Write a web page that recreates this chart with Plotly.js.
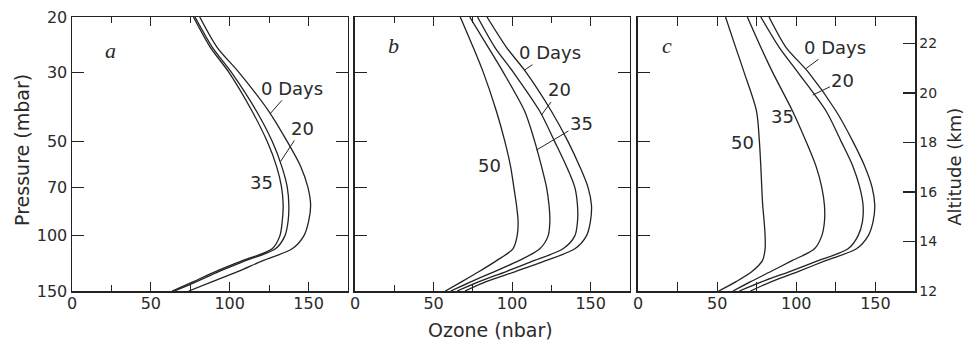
<!DOCTYPE html>
<html>
<head>
<meta charset="utf-8">
<script src="https://cdn.plot.ly/plotly-3.0.1.min.js"></script>
<style>html,body{margin:0;padding:0;background:#fff;}#chart{width:978px;height:344px;}</style>
</head>
<body>
<div id="chart"></div>
<script>
// Pressure levels (mbar)
const pressure = [20, 25, 30, 40, 50, 60, 70, 80, 90, 100, 110, 120, 130, 140, 150];

// Panel a: ozone (nbar)
const a_day0  = [81, 92, 105.7, 124.8, 136.5, 145, 149.6, 151.3, 150, 147, 139.6, 121, 105, 89, 74];
const a_day20 = [78, 89, 101, 117, 127, 133, 136.5, 137.5, 137, 135, 129, 110, 93, 79, 65];
const a_day35 = [77, 87.7, 99.4, 114.2, 123.8, 129.7, 132.9, 133.9, 133.3, 131.8, 126.9, 108, 91, 77, 63.5];

// Panel b
const b_day0  = [84, 96.4, 108.8, 125, 135.6, 143, 148.3, 150.5, 149.8, 147.3, 139.9, 121.4, 102.1, 83.5, 70];
const b_day20 = [78, 89, 100.7, 117.6, 127.1, 134.6, 139.9, 141.6, 141.6, 139.9, 132.4, 113.8, 96.2, 79, 65];
const b_day35 = [73, 84.8, 94.3, 108, 114.4, 118.7, 121.9, 123.5, 124, 122.9, 117.6, 104.3, 88.8, 74, 61];
const b_day50 = [67, 75.2, 81.6, 90, 95.4, 99, 101.1, 102.8, 103.8, 103.2, 100.5, 90.1, 79, 68, 57.5];

// Panel c
const c_day0  = [82.8, 93.5, 107.6, 125.2, 135.8, 143.3, 147.9, 149.6, 148.5, 145.4, 138, 118.5, 101.1, 84.4, 71];
const c_day20 = [77.6, 89.2, 100.9, 118.9, 128.4, 135.8, 140.1, 142.2, 141.8, 139, 132.7, 113.8, 95.8, 78.4, 64];
const c_day35 = [69.1, 77.6, 85, 97.7, 106.2, 112.5, 116.1, 117.8, 117.8, 116.1, 111.5, 97.3, 83.9, 71.2, 60];
const c_day50 = [55.3, 61.7, 67, 74.9, 76.7, 77.6, 78.2, 78.8, 79.7, 80.3, 80.3, 78.6, 72, 62, 51];

// Tick values / labels
const pressureTicks = [20, 30, 50, 70, 100, 150];
const ozoneTicks = [0, 50, 100, 150];
const ozoneMinor = [25, 75, 125];
const altitudeTicks = [12, 14, 16, 18, 20, 22];

const ink = '#222';
const txt = '#2a2a2a';
const FONT = 'DejaVu Sans, sans-serif';

function curve(x, xa, ya) {
  return {x: x, y: pressure, xaxis: xa, yaxis: ya, type: 'scatter', mode: 'lines',
    line: {color: ink, width: 1.3, shape: 'spline', smoothing: 0.8}, showlegend: false, hoverinfo: 'skip'};
}

const data = [
  curve(a_day0, 'x', 'y'), curve(a_day20, 'x', 'y'), curve(a_day35, 'x', 'y'),
  curve(b_day0, 'x2', 'y2'), curve(b_day20, 'x2', 'y2'), curve(b_day35, 'x2', 'y2'), curve(b_day50, 'x2', 'y2'),
  curve(c_day0, 'x3', 'y3'), curve(c_day20, 'x3', 'y3'), curve(c_day35, 'x3', 'y3'), curve(c_day50, 'x3', 'y3'),
  {x: [null], y: [null], xaxis: 'x3', yaxis: 'y4', type: 'scatter', mode: 'lines', showlegend: false, hoverinfo: 'skip'}
];

function xax(dom, showLab) {
  return {domain: dom, range: [0, 175], tickvals: ozoneTicks, ticktext: ozoneTicks.map(String),
    ticks: 'inside', ticklen: 9, tickwidth: 1.2, tickcolor: ink, mirror: 'allticks',
    showline: true, linecolor: ink, linewidth: 1.5, showgrid: false, zeroline: false,
    minor: {tickvals: ozoneMinor, ticks: 'inside', ticklen: 6, tickwidth: 1, tickcolor: ink},
    ticklabelstandoff: -3,
    tickfont: {family: FONT, size: 16, color: txt}, showticklabels: showLab, fixedrange: true};
}
function yax(anchor, showLab, mirror) {
  return {anchor: anchor, domain: [0, 1], type: 'log', range: [Math.log10(150), Math.log10(20)],
    tickvals: pressureTicks, ticktext: pressureTicks.map(String),
    ticks: 'inside', ticklen: 12, tickwidth: 1.2, tickcolor: ink, mirror: mirror,
    showline: true, linecolor: ink, linewidth: 1.5, showgrid: false, zeroline: false,
    tickfont: {family: FONT, size: 16, color: txt}, showticklabels: showLab, fixedrange: true};
}

const L = Math.log10;
function ann(text, xref, yref, x, p, size, extra) {
  return Object.assign({text: text, xref: xref, yref: yref, x: x, y: L(p), showarrow: false,
    xanchor: 'center', yanchor: 'middle',
    font: {family: FONT, size: size, color: txt}}, extra || {});
}
function lead(text, xref, yref, tx, tp, cx, cp) {
  return {text: text, xref: xref, yref: yref, x: cx, y: L(cp), axref: xref, ayref: yref, ax: tx, ay: L(tp),
    showarrow: true, arrowhead: 0, arrowwidth: 1, arrowcolor: ink, standoff: 0,
    font: {family: FONT, size: 18, color: txt}};
}

const annotations = [
  // panel a
  lead('0 Days', 'x', 'y', 139.7, 33.8, 125.9, 40.6),
  lead('20', 'x', 'y', 146, 45.4, 132.2, 57.9),
  ann('35', 'x', 'y', 120, 67.3, 18),
  // panel b
  lead('0 Days', 'x2', 'y2', 124, 26, 108.1, 29.5),
  lead('20', 'x2', 'y2', 130.3, 34.2, 118.7, 41.1),
  lead('35', 'x2', 'y2', 144.1, 43.7, 115.5, 53.2),
  ann('50', 'x2', 'y2', 85.8, 59.4, 18),
  // panel c
  lead('0 Days', 'x3', 'y3', 124.2, 25, 106.2, 29.2),
  lead('20', 'x3', 'y3', 129.5, 31.9, 110.4, 35.5),
  ann('35', 'x3', 'y3', 91.3, 41.7, 18),
  ann('50', 'x3', 'y3', 65.9, 50.4, 18),
  // panel letters
  ann('<i>a</i>', 'x', 'y', 24.2, 25.5, 22, {font: {family: 'Liberation Serif, serif', size: 22, color: txt}}),
  ann('<i>b</i>', 'x2', 'y2', 24.2, 24.6, 22, {font: {family: 'Liberation Serif, serif', size: 22, color: txt}}),
  ann('<i>c</i>', 'x3', 'y3', 18.4, 24.6, 22, {font: {family: 'Liberation Serif, serif', size: 22, color: txt}}),
  // axis titles
  {text: 'Ozone (nbar)', xref: 'paper', yref: 'paper', x: 0.496, y: -0.142, xanchor: 'center', yanchor: 'middle',
    showarrow: false, font: {family: FONT, size: 19, color: txt}},
  {text: 'Pressure (mbar)', xref: 'paper', yref: 'paper', x: -0.0593, y: 0.515, xanchor: 'center', yanchor: 'middle',
    showarrow: false, textangle: -90, font: {family: FONT, size: 19, color: txt}},
  {text: 'Altitude (km)', xref: 'paper', yref: 'paper', x: 1.0474, y: 0.453, xanchor: 'center', yanchor: 'middle',
    showarrow: false, textangle: -90, font: {family: FONT, size: 18, color: txt}}
];

const layout = {
  width: 978, height: 344,
  margin: {l: 72, r: 63, t: 17, b: 53},
  paper_bgcolor: '#fff', plot_bgcolor: '#fff',
  showlegend: false,
  xaxis: Object.assign(xax([0, 0.3274], true), {anchor: 'y'}),
  xaxis2: Object.assign(xax([0.3357, 0.6619], true), {anchor: 'y2'}),
  xaxis3: Object.assign(xax([0.6714, 1], true), {anchor: 'y3'}),
  yaxis: yax('x', true, 'allticks'),
  yaxis2: yax('x2', false, 'allticks'),
  yaxis3: yax('x3', false, true),
  yaxis4: {overlaying: 'y3', anchor: 'x3', side: 'right', range: [12, 23.07],
    tickvals: altitudeTicks, ticktext: altitudeTicks.map(String),
    ticks: 'inside', ticklen: 12, tickwidth: 1.2, tickcolor: ink,
    showline: true, linecolor: ink, linewidth: 1.5, showgrid: false, zeroline: false,
    tickfont: {family: FONT, size: 14, color: txt}, fixedrange: true},
  annotations: annotations
};

Plotly.newPlot('chart', data, layout, {staticPlot: true, displayModeBar: false});
</script>
</body>
</html>
